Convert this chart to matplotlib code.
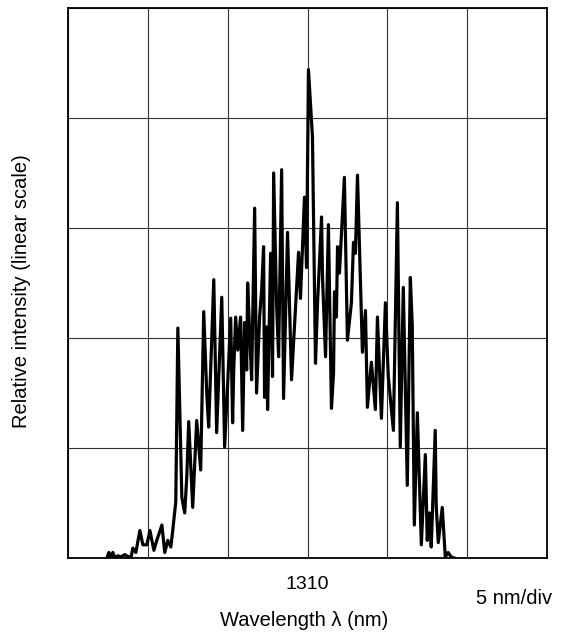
import matplotlib.pyplot as plt
import numpy as np

plt.rcParams['font.family'] = ['Liberation Sans', 'DejaVu Sans']

# wavelength (nm) and relative intensity (grid divisions)
wavelength = [
    1297.44, 1297.56, 1297.69, 1297.81, 1297.94, 1298.13, 1298.31, 1298.56, 1298.81, 1298.94,
    1299.06, 1299.25, 1299.50, 1299.69, 1299.94, 1300.13, 1300.38, 1300.56, 1300.88, 1301.06,
    1301.25, 1301.44, 1301.56, 1301.75, 1301.88, 1302.13, 1302.31, 1302.44, 1302.56, 1302.81,
    1303.06, 1303.31, 1303.50, 1303.69, 1303.81, 1304.13, 1304.31, 1304.63, 1304.81, 1305.00,
    1305.19, 1305.31, 1305.38, 1305.50, 1305.63, 1305.81, 1305.94, 1306.06, 1306.19, 1306.25,
    1306.38, 1306.50, 1306.69, 1306.81, 1307.00, 1307.13, 1307.25, 1307.31, 1307.44, 1307.50,
    1307.69, 1307.81, 1307.88, 1308.06, 1308.19, 1308.38, 1308.50, 1308.75, 1309.00, 1309.44,
    1309.56, 1309.81, 1309.94, 1310.06, 1310.31, 1310.50, 1310.63, 1310.88, 1310.94, 1311.13,
    1311.31, 1311.50, 1311.63, 1311.69, 1311.81, 1311.88, 1312.00, 1312.31, 1312.50, 1312.75,
    1312.88, 1313.00, 1313.13, 1313.44, 1313.63, 1313.75, 1314.00, 1314.25, 1314.38, 1314.63,
    1314.88, 1315.06, 1315.38, 1315.63, 1315.81, 1316.00, 1316.25, 1316.44, 1316.56, 1316.69,
    1316.88, 1317.13, 1317.38, 1317.50, 1317.63, 1317.75, 1318.00, 1318.06, 1318.19, 1318.44,
    1318.63, 1318.81, 1319.00, 1319.19,
]
intensity = [
    0.00, 0.05, 0.01, 0.05, 0.00, 0.02, 0.01, 0.03, 0.01, 0.00,
    0.09, 0.05, 0.25, 0.12, 0.12, 0.25, 0.07, 0.16, 0.30, 0.05,
    0.16, 0.10, 0.25, 0.51, 2.09, 0.55, 0.41, 0.74, 1.24, 0.46,
    1.25, 0.80, 2.24, 1.50, 1.19, 2.53, 1.14, 2.37, 1.01, 1.59,
    2.18, 1.23, 1.71, 2.19, 1.89, 2.19, 1.16, 2.14, 1.71, 2.50,
    2.03, 1.62, 3.18, 1.50, 2.19, 2.44, 2.83, 1.46, 2.10, 1.35,
    2.77, 1.65, 3.50, 2.32, 1.83, 3.53, 1.45, 2.96, 1.62, 2.78,
    2.36, 3.28, 2.64, 4.44, 3.83, 1.77, 2.32, 3.10, 2.55, 1.83,
    3.03, 1.36, 1.68, 2.42, 2.19, 2.83, 2.59, 3.46, 1.98, 2.32,
    2.87, 2.77, 3.48, 1.87, 2.25, 1.37, 1.78, 1.35, 2.19, 1.27,
    2.32, 1.65, 1.16, 3.23, 1.01, 2.46, 0.66, 2.55, 2.12, 0.30,
    1.32, 0.12, 0.94, 0.16, 0.41, 0.10, 1.16, 0.48, 0.14, 0.46,
    0.01, 0.05, 0.01, 0.00,
]

x_ticks = np.arange(1295, 1326, 5)
x_labels = ['' if t != 1310 else '1310' for t in x_ticks]

fig = plt.figure(figsize=(5.67, 6.34), dpi=100)
ax = fig.add_axes([68 / 567, 1 - 558 / 634, 479 / 567, 550 / 634])

ax.plot(wavelength, intensity, color='black', lw=2.3)

ax.set_xlim(1295, 1325)
ax.set_ylim(0, 5)
ax.set_xticks(x_ticks, x_labels)
ax.set_yticks(np.arange(0, 6, 1), [])
ax.tick_params(length=0, labelsize=14, pad=13)
ax.grid(True, color='#333333', lw=0.8)
for s in ax.spines.values():
    s.set_linewidth(1.3)

fig.text(304 / 567, 1 - 620 / 634, 'Wavelength λ (nm)', ha='center', va='center', fontsize=14.5)
fig.text(22 / 567, 1 - 291 / 634, 'Relative intensity (linear scale)', rotation=90,
         ha='center', va='center', fontsize=14.5)
fig.text(514 / 567, 1 - 598 / 634, '5 nm/div', ha='center', va='center', fontsize=14.5)

fig.savefig('out.png', dpi=100)
